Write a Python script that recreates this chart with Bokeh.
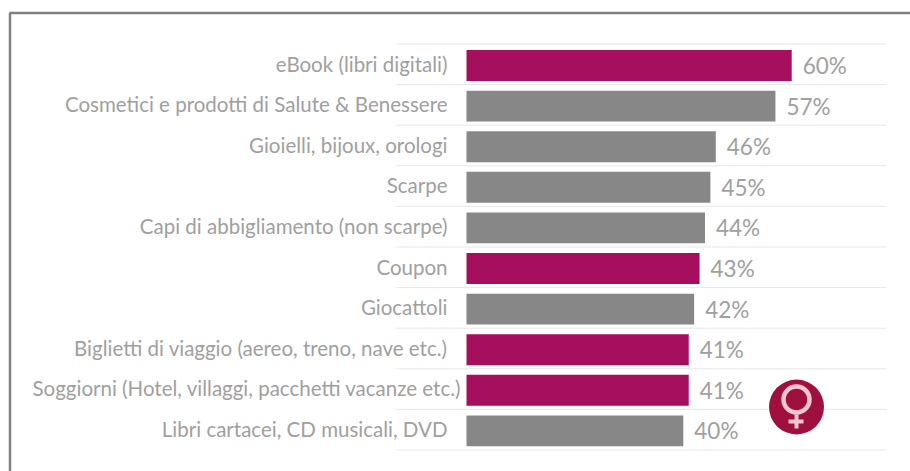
from bokeh.core.properties import value
from bokeh.embed import file_html
from bokeh.models import ColumnDataSource, Range1d
from bokeh.plotting import figure
from bokeh.resources import INLINE

categories = [
    "eBook (libri digitali)",
    "Cosmetici e prodotti di Salute & Benessere",
    "Gioielli, bijoux, orologi",
    "Scarpe",
    "Capi di abbigliamento (non scarpe)",
    "Coupon",
    "Giocattoli",
    "Biglietti di viaggio (aereo, treno, nave etc.)",
    "Soggiorni (Hotel, villaggi, pacchetti vacanze etc.)",
    "Libri cartacei, CD musicali, DVD",
]
percentages = [60, 57, 46, 45, 44, 43, 42, 41, 41, 40]
highlighted = [True, False, False, False, False, True, False, True, True, False]

MAGENTA = "#a60e5e"
GREY = "#878787"
LABEL_GREY = "#a0a0a0"
BADGE_INK = "#f3c6d4"
FONT = value("Lato")

WIDTH, HEIGHT = 910, 471
ZERO_PX, PX_PER_PCT = 466.0, 5.42
ROW_TOP_PX, ROW_STEP_PX = 65.0, 40.6


def x_of(px):
    return (px - ZERO_PX) / PX_PER_PCT


def y_of(px):
    return (px - ROW_TOP_PX) / ROW_STEP_PX


p = figure(
    width=WIDTH, height=HEIGHT, output_backend="svg", toolbar_location=None,
    x_range=Range1d(x_of(0), x_of(WIDTH)),
    y_range=Range1d(y_of(HEIGHT), y_of(0)),
    min_border=0, outline_line_color=None, background_fill_color="white",
)
p.axis.visible = False
p.grid.visible = False

rows = list(range(len(categories)))
# The longest label runs further towards the bars than the others
label_edges = [x_of(461) if len(n) > 50 else x_of(447) for n in categories]
source = ColumnDataSource(dict(
    row=rows,
    pct=percentages,
    name=categories,
    tag=[f"{v}%" for v in percentages],
    color=[MAGENTA if h else GREY for h in highlighted],
    edge=label_edges,
))

# Outer frame, open towards the right and bottom of the page
p.line([x_of(9.5), x_of(9.5), x_of(WIDTH)], [y_of(HEIGHT), y_of(12.5), y_of(12.5)],
       line_color="#808080", line_width=2.5)

# Thin separators between the rows
separators = [r - 0.53 for r in rows + [len(rows)]]
p.segment(x0=x_of(396), x1=x_of(886), y0=separators, y1=separators,
          line_color="#e6e6e6", line_width=1)

p.hbar(y="row", left=0, right="pct", height=0.76, color="color", line_color=None, source=source)

p.text(x="edge", y="row", text="name", source=source, y_offset=-2, text_align="right",
       text_baseline="middle", text_font=FONT, text_font_size="20.5px", text_color=LABEL_GREY)
p.text(x="pct", y="row", text="tag", source=source, x_offset=11, text_align="left",
       text_baseline="middle", text_font=FONT, text_font_size="22.5px", text_color=LABEL_GREY)

# Venus badge
bx, by = x_of(796), y_of(406.5)
p.scatter([bx], [by], size=55, marker="circle", fill_color="#a0103f", line_color=None)
p.scatter([bx], [y_of(399)], size=26, marker="circle", fill_color=None,
          line_color=BADGE_INK, line_width=4.5)
p.segment(x0=[bx, x_of(788)], x1=[bx, x_of(803)],
          y0=[y_of(414), y_of(421)], y1=[y_of(428), y_of(421)],
          line_color=BADGE_INK, line_width=4)

open("out.html", "w").write(file_html(p, INLINE))
